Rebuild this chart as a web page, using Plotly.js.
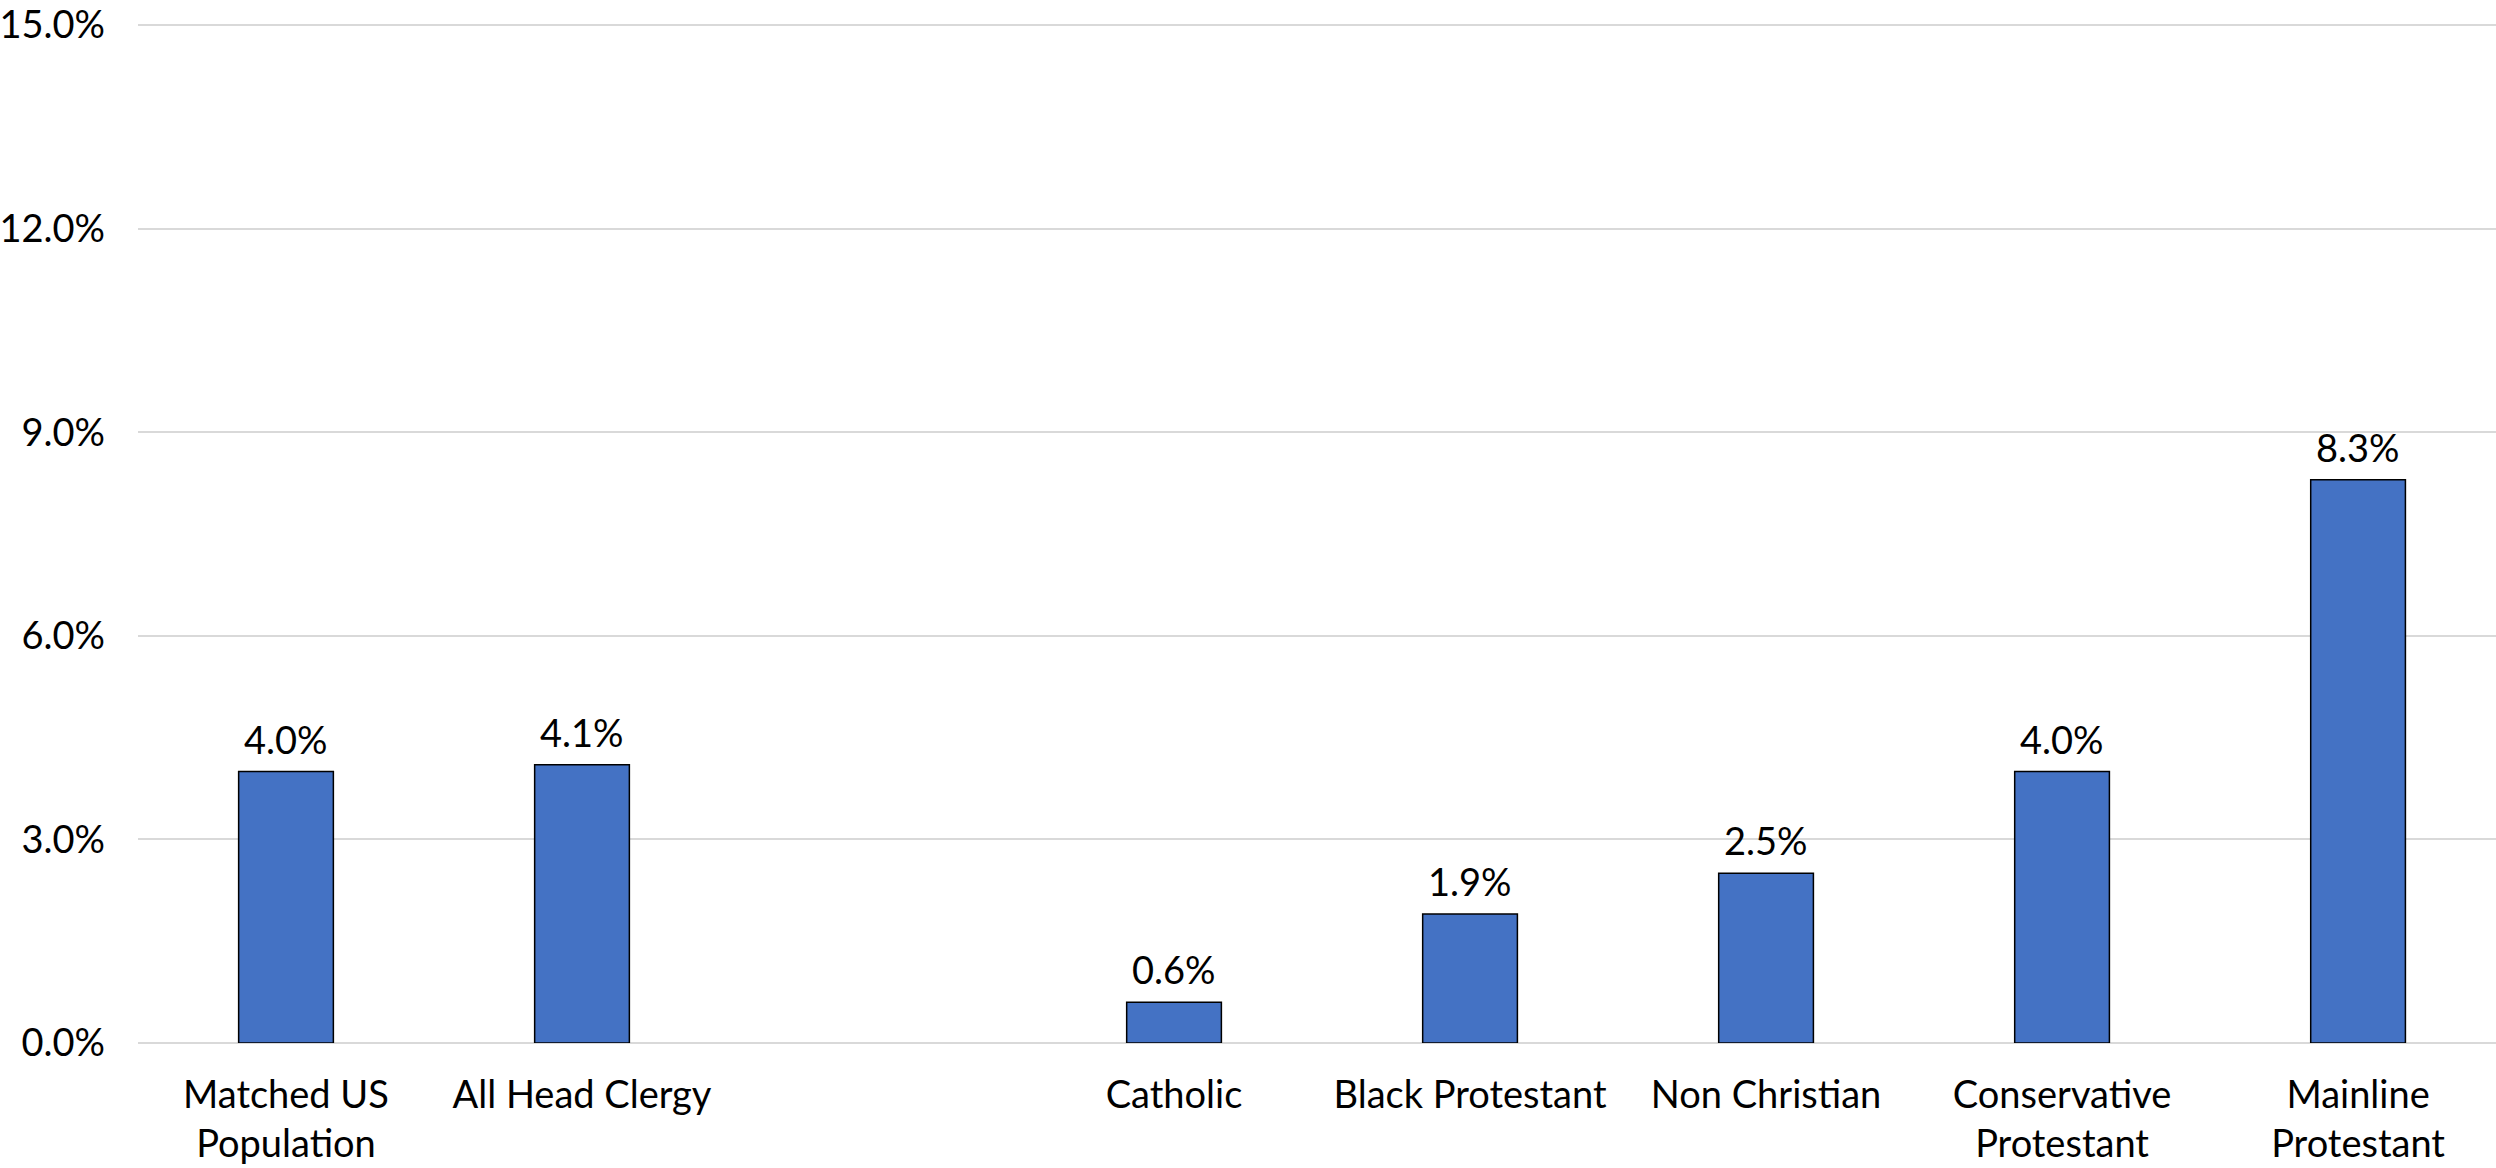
<!DOCTYPE html>
<html>
<head>
<meta charset="utf-8">
<script src="https://cdn.plot.ly/plotly-3.0.1.min.js"></script>
<style>html,body{margin:0;padding:0;background:#fff;}#chart{width:2496px;height:1168px;}</style>
</head>
<body>
<div id="chart"></div>
<script>
var categories = ["Matched US<br>Population", "All Head Clergy", " ", "Catholic", "Black Protestant", "Non Christian", "Conservative<br>Protestant", "Mainline<br>Protestant"];
var barCategories = ["Matched US<br>Population", "All Head Clergy", "Catholic", "Black Protestant", "Non Christian", "Conservative<br>Protestant", "Mainline<br>Protestant"];
var values = [4.0, 4.1, 0.6, 1.9, 2.5, 4.0, 8.3];
var yTicks = [0, 3, 6, 9, 12, 15];
var yTickText = ["0.0%", "3.0%", "6.0%", "9.0%", "12.0%", "15.0%"];

var font = "Lato, 'Open Sans', sans-serif";
var fs = 38;

var trace = {
  type: "bar",
  x: barCategories,
  y: values,
  width: 0.32,
  marker: {color: "#4472C4", line: {color: "#000000", width: 1.5}},
  hoverinfo: "skip"
};

var annotations = barCategories.map(function(c, i){
  return {
    x: c, y: values[i], xref: "x", yref: "y",
    text: values[i].toFixed(1) + "%",
    showarrow: false, yanchor: "bottom", xanchor: "center",
    yshift: 8,
    font: {family: font, size: fs, color: "#000000"}
  };
});

var layout = {
  width: 2496, height: 1168,
  margin: {l: 138, r: 0, t: 22, b: 125},
  paper_bgcolor: "#ffffff", plot_bgcolor: "#ffffff",
  showlegend: false,
  font: {family: font, size: fs, color: "#000000"},
  annotations: annotations,
  xaxis: {
    type: "category",
    categoryorder: "array",
    categoryarray: categories,
    range: [-0.5, 7.466],
    showgrid: false, zeroline: false, showline: false,
    ticks: "",
    ticklabelstandoff: 26,
    tickfont: {family: font, size: fs, color: "#000000"}
  },
  yaxis: {
    range: [0, 15.045],
    tickvals: yTicks,
    ticktext: yTickText,
    showgrid: true, gridcolor: "#d9d9d9", gridwidth: 2,
    zeroline: true, zerolinecolor: "#d9d9d9", zerolinewidth: 2,
    showline: false, ticks: "",
    ticklabeloverflow: "allow",
    ticklabelstandoff: 32,
    tickfont: {family: font, size: fs, color: "#000000"}
  }
};

Plotly.newPlot("chart", [trace], layout, {staticPlot: true, displayModeBar: false});
</script>
</body>
</html>
